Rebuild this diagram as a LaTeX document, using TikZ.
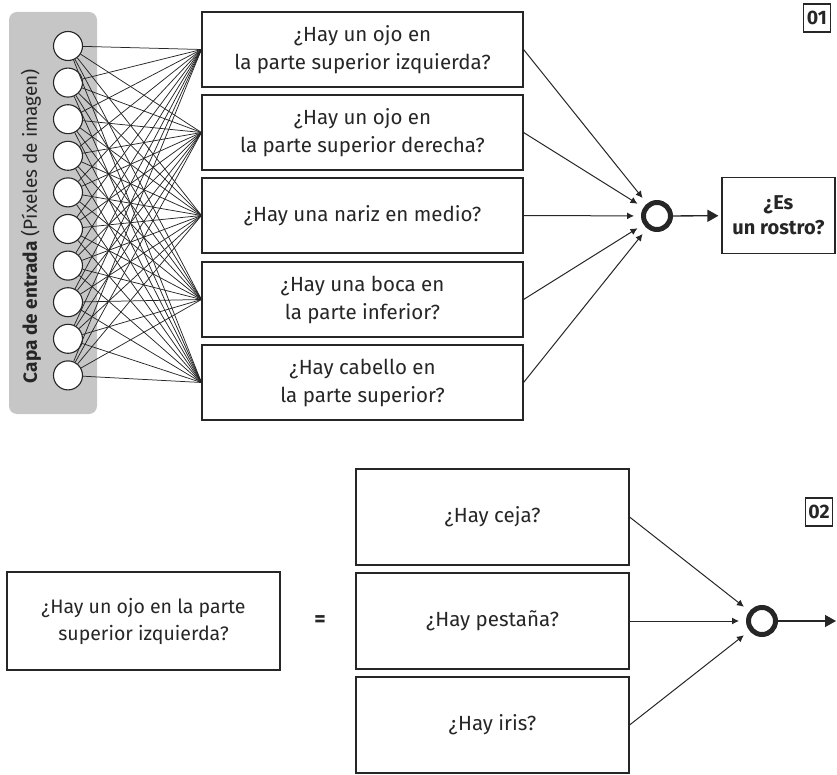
\documentclass[tikz,border=0pt]{standalone}
\usepackage{fontspec}
\setmainfont{Fira Sans}
\usepackage{tikz}
\usetikzlibrary{arrows.meta,positioning}

\definecolor{ink}{HTML}{262626}
\definecolor{panel}{HTML}{C6C6C6}

\tikzset{
  qbox/.style={draw=ink, line width=1.1pt, fill=white, align=center, text=ink,
    inner sep=0pt, font=\fontsize{20.5}{28}\selectfont},
  pixel/.style={circle, draw=ink, line width=1.1pt, fill=white,
    minimum size=29pt, inner sep=0pt},
  sumnode/.style={circle, draw=ink, line width=5pt, minimum size=27pt, inner sep=0pt},
  tag/.style={draw=ink, line width=1.3pt, minimum width=27pt, minimum height=28pt,
    inner sep=0pt, text=ink, font=\fontsize{19.5}{19.5}\selectfont\bfseries},
  wire/.style={draw=ink, line width=0.75pt},
  feed/.style={draw=ink, line width=1pt, -{Latex[length=7pt,width=7pt]}, shorten >=7pt},
  outarrow/.style={draw=ink, line width=1.3pt, -{Triangle[length=11pt,width=12pt]}},
}

\begin{document}
\begin{tikzpicture}[x=1pt,y=-1pt]
\useasboundingbox (0,0) rectangle (837,775);

% --- 01: input layer, feature questions, face decision
\fill[panel, rounded corners=8pt] (9,12) rectangle (97,414);
\node[rotate=90, text=ink, font=\fontsize{19}{19}\selectfont] (layer) at (31,226)
  {\textbf{Capa de entrada} (Píxeles de imagen)};
\foreach \i in {1,...,10}
  \node[pixel] (p\i) at (68,{46+36.6*(\i-1)}) {};

\node[qbox, minimum width=321pt, minimum height=75pt] (q1) at (362.5,49.5)
  {¿Hay un ojo en\\la parte superior izquierda?};
\node[qbox, minimum width=321pt, minimum height=75pt] (q2) at (362.5,132.5)
  {¿Hay un ojo en\\la parte superior derecha?};
\node[qbox, minimum width=321pt, minimum height=75pt] (q3) at (362.5,215.5)
  {¿Hay una nariz en medio?};
\node[qbox, minimum width=321pt, minimum height=75pt] (q4) at (362.5,299.5)
  {¿Hay una boca en\\la parte inferior?};
\node[qbox, minimum width=321pt, minimum height=75pt] (q5) at (362.5,382.5)
  {¿Hay cabello en\\la parte superior?};

\foreach \i in {1,...,10}
  \foreach \j in {1,...,5}
    \draw[wire] (p\i) -- (q\j.west);

\node[sumnode] (s1) at (657,216) {};
\foreach \j in {1,...,5} \draw[feed] (q\j.east) -- (s1);

\node[qbox, minimum width=113pt, minimum height=76pt,
  font=\fontsize{20}{25}\selectfont\bfseries] (face) at (778.5,215.5) {¿Es\\un rostro?};
\draw[outarrow, shorten >=3pt] (s1) -- (face);

\node[tag] (t1) at (817,18) {01};

% --- 02: one feature split into smaller questions
\node[qbox, minimum width=273pt, minimum height=98pt,
  font=\fontsize{19.5}{27}\selectfont] (eye) at (143.5,621)
  {¿Hay un ojo en la parte\\superior izquierda?};
\node[text=ink, font=\fontsize{22}{22}\selectfont\bfseries] (eq) at (320,621) {=};

\node[qbox, minimum width=273pt, minimum height=96pt] (f1) at (492.5,517) {¿Hay ceja?};
\node[qbox, minimum width=273pt, minimum height=96pt] (f2) at (492.5,621) {¿Hay pestaña?};
\node[qbox, minimum width=273pt, minimum height=96pt] (f3) at (492.5,725) {¿Hay iris?};

\node[sumnode] (s2) at (762,621) {};
\foreach \j in {1,2,3} \draw[feed] (f\j.east) -- (s2);
\coordinate (out2) at (836,621);
\draw[outarrow] (s2) -- (out2);

\node[tag] (t2) at (819,512) {02};
\end{tikzpicture}
\end{document}
